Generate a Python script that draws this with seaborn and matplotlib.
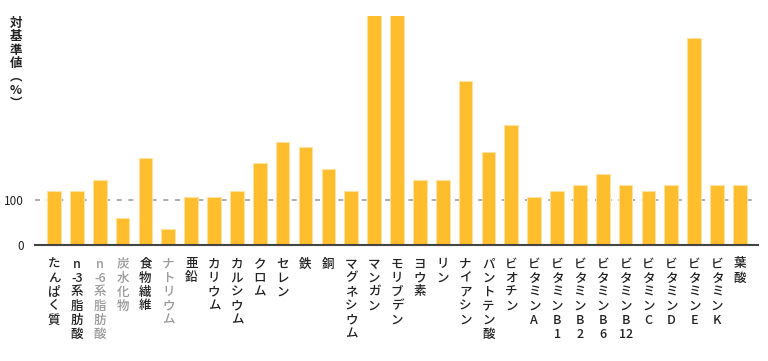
import re
import matplotlib
matplotlib.use("Agg")
import matplotlib.pyplot as plt
import seaborn as sns
import pandas as pd

categories = ["たんぱく質", "n-3系脂肪酸", "n-6系脂肪酸", "炭水化物", "食物繊維", "ナトリウム",
              "亜鉛", "カリウム", "カルシウム", "クロム", "セレン", "鉄", "銅", "マグネシウム",
              "マンガン", "モリブデン", "ヨウ素", "リン", "ナイアシン", "パントテン酸", "ビオチン",
              "ビタミンA", "ビタミンB1", "ビタミンB2", "ビタミンB6", "ビタミンB12", "ビタミンC",
              "ビタミンD", "ビタミンE", "ビタミンK", "葉酸"]
values = [120, 120, 144, 60, 192, 36,
          107, 107, 120, 181, 229, 217, 168, 120,
          600, 600, 144, 144, 362, 205, 265,
          107, 120, 133, 157, 133, 120,
          133, 458, 133, 133]
muted = ["n-6系脂肪酸", "炭水化物", "ナトリウム"]
y_ticks = [0, 100]
reference_value = 100

sns.set_theme(style="white")
plt.rcParams["font.family"] = ["Noto Sans CJK JP", "DejaVu Sans"]

fig = plt.figure(figsize=(7.68, 3.61), dpi=100)
ax = fig.add_axes([35 / 768, 116 / 361, 723 / 768, 229 / 361])

df = pd.DataFrame({"cat": categories, "val": values})
sns.barplot(data=df, x="cat", y="val", color="#FDBD2C", saturation=1, width=0.6,
            edgecolor="#FFE2A0", linewidth=0.8, ax=ax, zorder=2)

ax.axhline(reference_value, color="#a0a0a0", ls=(0, (3, 4)), lw=1.2, zorder=1)
ax.set_ylim(0, 507)
ax.set_xlim(-0.83, 30.79)

for s in ["top", "right", "left"]:
    ax.spines[s].set_visible(False)
ax.spines["bottom"].set_color("#444444")
ax.spines["bottom"].set_linewidth(1.5)
ax.spines["bottom"].set_zorder(3)

ax.set_yticks(y_ticks)
ax.set_yticklabels([str(v) for v in y_ticks])
ax.tick_params(axis="y", length=0, labelsize=8.5, pad=8, labelcolor="#222222")

def stack(label):
    return "\n".join(re.findall(r"-?\d+|.", label))

ax.set_xticks(range(len(categories)))
ax.set_xticklabels([stack(c) for c in categories], va="top", linespacing=1.1,
                   fontsize=9, fontweight="medium")
for lbl, c in zip(ax.get_xticklabels(), categories):
    lbl.set_color("#999999" if c in muted else "#222222")
ax.tick_params(axis="x", length=0, pad=9)
ax.set_xlabel("")
ax.set_ylabel("")

fig.text(16 / 768, 1 - 17 / 361, "対\n基\n準\n値\n︵\n%\n︶", ha="center", va="top",
         fontsize=9, fontweight="bold", linespacing=1.03, color="#222222")

fig.savefig("out.png", dpi=100)
